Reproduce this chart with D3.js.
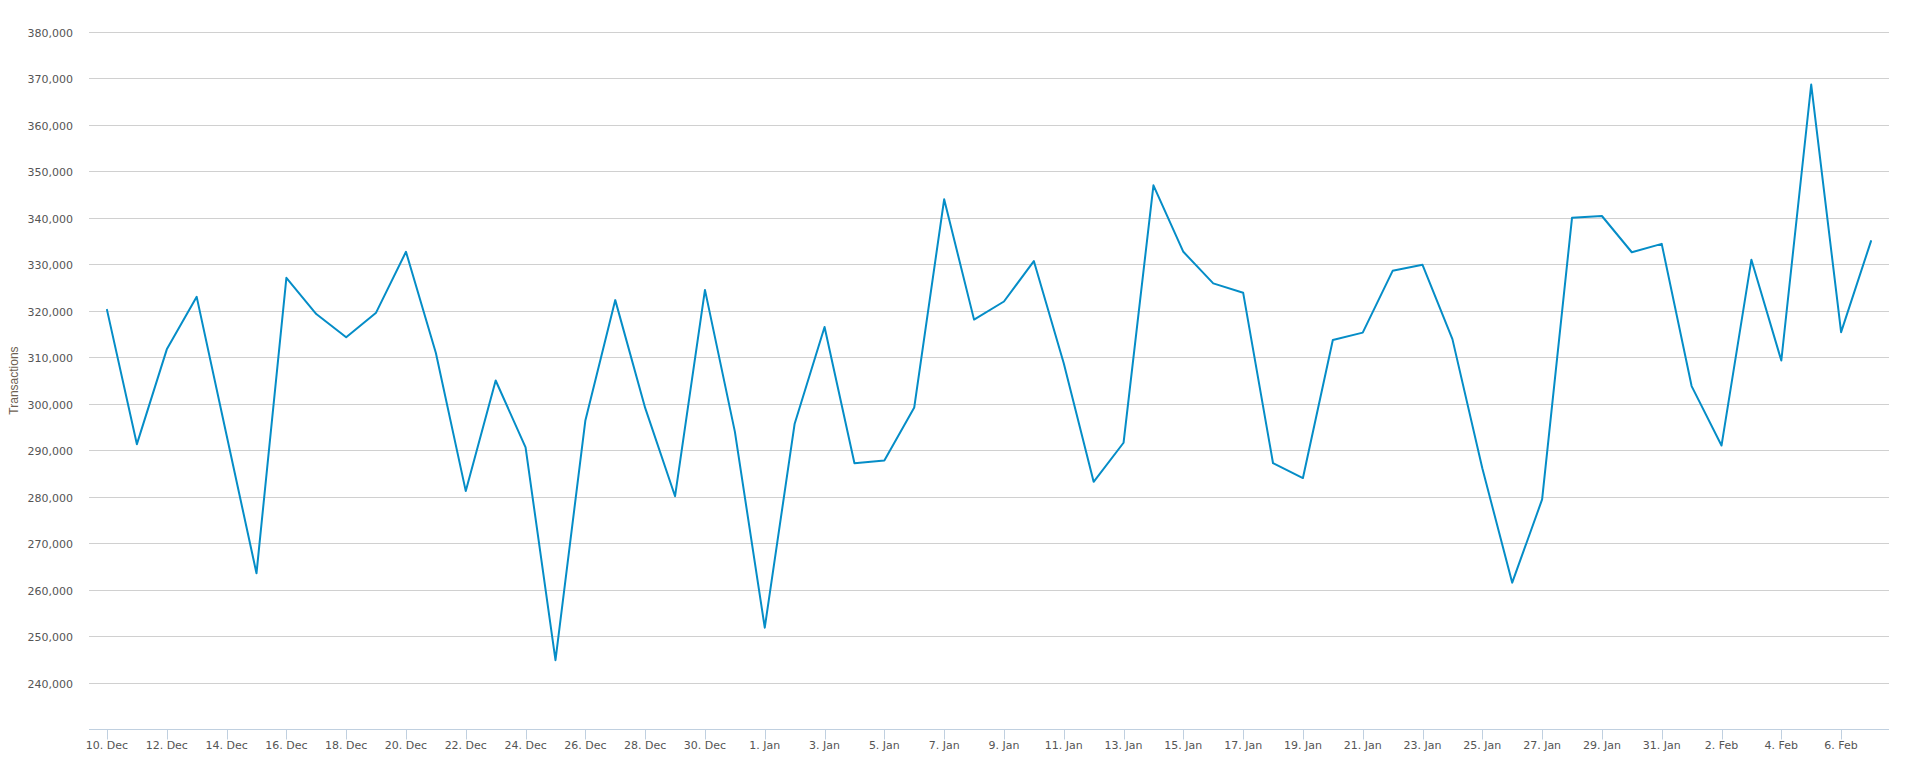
<!DOCTYPE html>
<html>
<head>
<meta charset="utf-8">
<script src="https://cdn.jsdelivr.net/npm/d3@7"></script>
<style>
  html, body { margin: 0; padding: 0; background: #ffffff; }
  svg { display: block; }
</style>
</head>
<body>
<svg id="chart" width="1906" height="762"></svg>
<script>
// ---- data ----
const startDate = "2013-12-10";
const endDate = "2014-02-07";
const transactions = [
  320200, 291300, 311700, 323000, 293200, 263500, 327100, 319300, 314300, 319600,
  332700, 310900, 281200, 305000, 290600, 244800, 296400, 322300, 299100, 280100,
  324500, 294000, 251800, 295700, 316500, 287200, 287800, 299200, 344000, 318100,
  322000, 330700, 308700, 283200, 291600, 347000, 332700, 325900, 323900, 287200,
  284000, 313700, 315300, 328600, 329900, 313900, 286100, 261500, 279400, 340000,
  340400, 332600, 334400, 303800, 291000, 331000, 309300, 368700, 315400, 335000
];
const yTicks = [240000, 250000, 260000, 270000, 280000, 290000, 300000, 310000,
                320000, 330000, 340000, 350000, 360000, 370000, 380000];
const yDomain = [230000, 380000];
const yTitle = "Transactions";

// ---- build ----
(function () {
const parse = d3.utcParse("%Y-%m-%d");
const t0 = parse(startDate), t1 = parse(endDate);
const dates = d3.utcDay.range(t0, d3.utcDay.offset(t1, 1));
const series = dates.map((d, i) => ({ date: d, value: transactions[i] }));
const xTicks = d3.utcDay.range(t0, d3.utcDay.offset(t1, 1), 2);

const pLeft = 89, pRight = 1889, pTop = 32, pBottom = 729;
const pad = 18;

const svg = d3.select("#chart");
const x = d3.scaleUtc().domain([t0, t1]).range([pLeft + pad, pRight - pad]);
const y = d3.scaleLinear().domain(yDomain).range([pBottom, pTop]);

// grid lines
svg.append("g").selectAll("line").data(yTicks).join("line")
  .attr("x1", pLeft).attr("x2", pRight)
  .attr("y1", d => Math.round(y(d)) + 0.5).attr("y2", d => Math.round(y(d)) + 0.5)
  .attr("stroke", "#d0d0d0").attr("stroke-width", 1);

// y labels
const fmt = d3.format(",");
svg.append("g").selectAll("text").data(yTicks).join("text")
  .attr("x", 73).attr("y", d => Math.round(y(d)) + 5)
  .attr("text-anchor", "end")
  .attr("font-family", "DejaVu Sans, Verdana, sans-serif")
  .attr("font-size", "11px")
  .attr("fill", "#555555")
  .text(d => fmt(d));

// y title
svg.append("text")
  .attr("transform", `translate(18, ${(pTop + pBottom) / 2}) rotate(-90)`)
  .attr("text-anchor", "middle")
  .attr("font-family", "Liberation Sans, Arial, sans-serif")
  .attr("font-size", "12px")
  .attr("fill", "#6e5f52")
  .text(yTitle);

// x axis
const xAxisG = svg.append("g").attr("transform", `translate(0, ${pBottom + 0.5})`);
xAxisG.append("line").attr("x1", pLeft).attr("x2", pRight).attr("y1", 0).attr("y2", 0)
  .attr("stroke", "#C0D0E0").attr("stroke-width", 1);
xAxisG.selectAll("line.tick").data(xTicks).join("line")
  .attr("class", "tick")
  .attr("x1", d => Math.round(x(d)) + 0.5).attr("x2", d => Math.round(x(d)) + 0.5)
  .attr("y1", 0).attr("y2", 10)
  .attr("stroke", "#C0D0E0").attr("stroke-width", 1);
const xfmt = d3.utcFormat("%-d. %b");
xAxisG.selectAll("text.lbl").data(xTicks).join("text")
  .attr("class", "lbl")
  .attr("x", d => x(d)).attr("y", 19)
  .attr("text-anchor", "middle")
  .attr("font-family", "DejaVu Sans, Verdana, sans-serif")
  .attr("font-size", "11px")
  .attr("fill", "#555555")
  .text(d => xfmt(d));

// line
const line = d3.line().x(d => x(d.date)).y(d => y(d.value));
svg.append("path").datum(series)
  .attr("d", line)
  .attr("fill", "none")
  .attr("stroke", "#058DC7")
  .attr("stroke-width", 2)
  .attr("stroke-linejoin", "round")
  .attr("stroke-linecap", "round");
})();
</script>
</body>
</html>
